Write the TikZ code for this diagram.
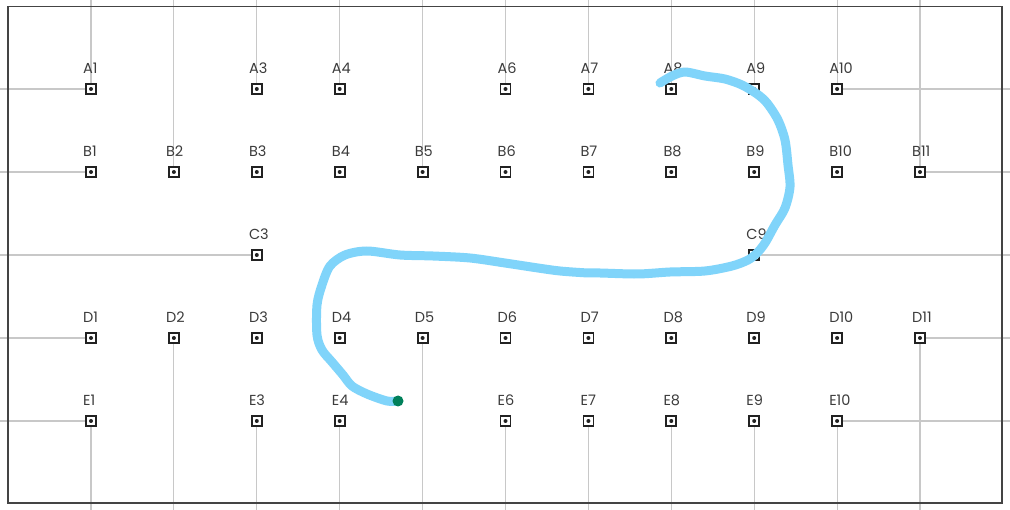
\documentclass[tikz,border=0pt]{standalone}
\usepackage{fontspec}
\setmainfont{Poppins}
\definecolor{gridgray}{HTML}{C8C8C8}
\definecolor{markdark}{HTML}{222222}
\definecolor{labelgray}{HTML}{3C3C3C}
\definecolor{framegray}{HTML}{444444}
\definecolor{inkblue}{HTML}{80D4FA}
\definecolor{dotgreen}{HTML}{00805A}
\pgfdeclarelayer{background}
\pgfsetlayers{background,main}
\begin{document}
\begin{tikzpicture}[x=1pt,y=-1pt,
  grid/.style={draw=gridgray,line width=1.1pt},
  marker/.style={rectangle,draw=markdark,fill=white,line width=1.8pt,minimum size=10pt,inner sep=0pt},
  lbl/.style={anchor=base west,text=labelgray,font=\fontsize{14.5}{15}\selectfont,inner sep=0pt},
  frame/.style={draw=framegray,line width=1.3pt},
  ink/.style={draw=inkblue,line width=9pt,line cap=round,line join=round}]
\useasboundingbox (0,0) rectangle (1010,510);
\coordinate (top) at (0,0);
\coordinate (bottom) at (0,510);
\coordinate (left) at (0,0);
\coordinate (right) at (1010,0);
\draw[frame] (8,6.5) rectangle (1002,503);
\foreach \r/\y/\cols in {A/89/{1,3,4,6,7,8,9,10},B/172/{1,2,3,4,5,6,7,8,9,10,11},C/255/{3,9},D/338/{1,2,3,4,5,6,7,8,9,10,11},E/421/{1,3,4,6,7,8,9,10}}{
  \foreach \c in \cols {
    \node[marker] (\r\c) at ({91+(\c-1)*82.9},\y) {};
    \fill[markdark] (\r\c.center) circle (2);
    \node[lbl] (L\r\c) at ({83+(\c-1)*82.9},{\y-15}) {\r\c};
  }
}
\begin{pgfonlayer}{background}
\fill[white] (0,0) rectangle (1010,510);
\foreach \n in {A1,B2,A3,A4,B5,A6,A7,A8,A9,A10,B11}
  \draw[grid] (\n.center) -- (\n.center |- top);
\foreach \n in {E1,D2,E3,E4,D5,E6,E7,E8,E9,E10,D11}
  \draw[grid] (\n.center) -- (\n.center |- bottom);
\foreach \n in {A1,B1,C3,D1,E1}
  \draw[grid] (\n.center) -- (\n.center -| left);
\foreach \n in {A10,B11,C9,D11,E10}
  \draw[grid] (\n.center) -- (\n.center -| right);
\end{pgfonlayer}
\draw[ink] plot[smooth,tension=0.5] coordinates {(660,83) (672,76) (685,72) (705,76) (725,79) (742,85) (757,94) (767,103) (778,120) (785,140) (788,165) (790,187) (785,208) (775,225) (765,243) (757,253) (748,260) (732,266) (705,271) (670,272) (638,274) (600,273) (588,273) (560,271) (538,268) (505,263) (470,258) (433,256) (400,255) (367,251) (345,255) (330,266) (322,285) (317,305) (317,335) (322,350) (332,362) (343,375) (352,386) (367,394) (387,401) (398,401)};
\fill[dotgreen] (398,401) circle (5.5);
\end{tikzpicture}
\end{document}
